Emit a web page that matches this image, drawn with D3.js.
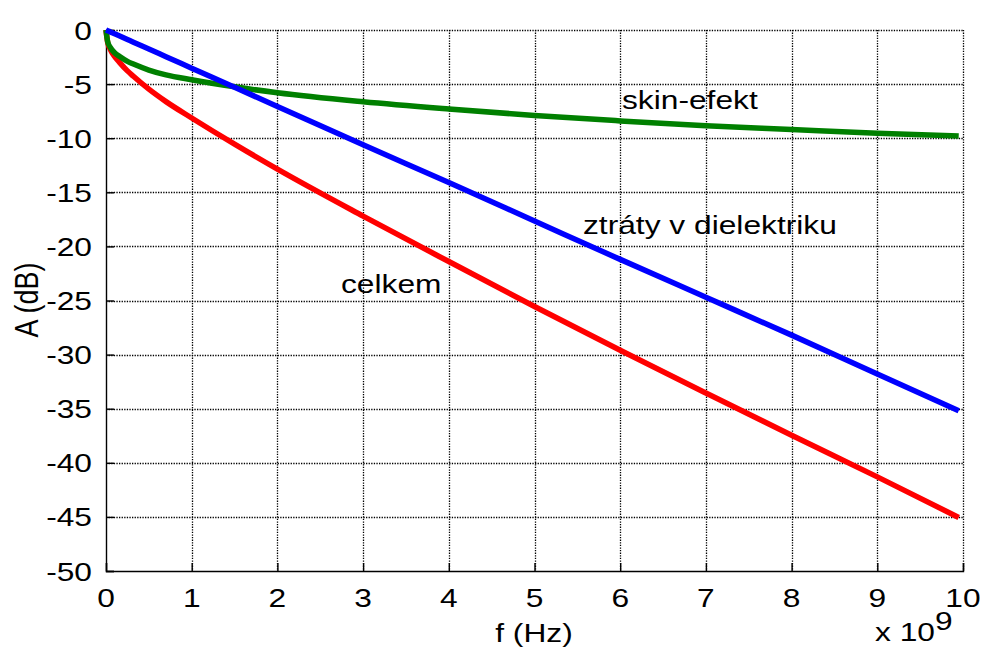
<!DOCTYPE html>
<html>
<head>
<meta charset="utf-8">
<script src="https://cdn.jsdelivr.net/npm/d3@7"></script>
<style>
  html, body { margin: 0; padding: 0; background: #fff; }
  svg text { font-family: "Liberation Sans", Arial, sans-serif; fill: #000; }
</style>
</head>
<body>
<svg id="chart" width="986" height="650"></svg>
<script>
// ---- data (frequency in GHz, i.e. x 10^9 Hz; attenuation in dB) ----
const freq         = [0, 0.02, 0.05, 0.1, 0.16, 0.25, 0.32, 0.5, 0.7, 1, 1.5, 2, 3, 4, 5, 6, 7, 8, 9, 9.95];
const skinEfekt    = [0, -1.1, -1.6, -2.1, -2.45, -2.9, -3.15, -3.7, -4.15, -4.6, -5.25, -5.8, -6.63, -7.3, -7.9, -8.4, -8.85, -9.2, -9.55, -9.8];
const dielektrikum = [0, -0.07, -0.18, -0.35, -0.56, -0.88, -1.13, -1.76, -2.47, -3.53, -5.3, -7.06, -10.6, -14.1, -17.65, -21.2, -24.7, -28.2, -31.8, -35.2];
const celkem       = [0, -1.17, -1.78, -2.45, -3.01, -3.78, -4.28, -5.47, -6.62, -8.13, -10.55, -12.86, -17.2, -21.4, -25.55, -29.6, -33.55, -37.45, -41.3, -45.05];
const xTicks = [0, 1, 2, 3, 4, 5, 6, 7, 8, 9, 10];
const yTicks = [0, -5, -10, -15, -20, -25, -30, -35, -40, -45, -50];
const seriesNames = ["celkem", "skin-efekt", "ztráty v dielektriku"];
const xLabel = "f (Hz)";
const yLabel = "A (dB)";

// ---- layout ----
const svg = d3.select("#chart");
const L = 106, R = 963, T = 30, B = 571;
const SX = 1.22; // horizontal stretch of the original figure's text
const FS = 26;

const x = d3.scaleLinear().domain([0, 10]).range([L, R]);
const y = d3.scaleLinear().domain([-50, 0]).range([B, T]);

// grid
const grid = svg.append("g").attr("stroke", "#000").attr("stroke-width", 1.3)
  .attr("stroke-dasharray", "1.3,1.3");
grid.selectAll(".vg").data(xTicks.filter(d => d > 0)).join("line")
  .attr("x1", d => Math.round(x(d)) + 0.5).attr("x2", d => Math.round(x(d)) + 0.5)
  .attr("y1", T).attr("y2", B);
grid.selectAll(".hg").data(yTicks.filter(d => d > -50)).join("line")
  .attr("y1", d => Math.round(y(d)) + 0.5).attr("y2", d => Math.round(y(d)) + 0.5)
  .attr("x1", L).attr("x2", R);

// axes (ticks inward, labels drawn separately to allow stretched text)
const xAxis = d3.axisBottom(x).tickValues(xTicks).tickSize(-8).tickFormat("");
const yAxis = d3.axisLeft(y).tickValues(yTicks).tickSize(-8).tickFormat("");
const gx = svg.append("g").attr("transform", `translate(0,${B})`).call(xAxis);
const gy = svg.append("g").attr("transform", `translate(${L},0)`).call(yAxis);
[gx, gy].forEach(g => {
  g.select(".domain").attr("stroke", "#000").attr("stroke-width", 1.4);
  g.selectAll(".tick line").attr("stroke", "#000").attr("stroke-width", 1.4);
});

// tick labels
svg.append("g").selectAll("text").data(xTicks).join("text")
  .attr("transform", d => `translate(${x(d)},607) scale(${SX},1)`)
  .attr("text-anchor", "middle").attr("font-size", FS)
  .text(d => d);
svg.append("g").selectAll("text").data(yTicks).join("text")
  .attr("transform", d => `translate(92,${y(d) + 9.5}) scale(${SX},1)`)
  .attr("text-anchor", "end").attr("font-size", FS)
  .text(d => d);

// exponent label
svg.append("text").attr("transform", `translate(875,641) scale(${SX},1)`)
  .attr("font-size", FS).text("x 10");
svg.append("text").attr("transform", `translate(935,630) scale(${SX},1)`)
  .attr("font-size", FS).text("9");

// axis titles
svg.append("text").attr("transform", `translate(534,642) scale(${SX},1)`)
  .attr("text-anchor", "middle").attr("font-size", FS).text(xLabel);
svg.append("text").attr("transform", `translate(38,300) scale(${SX},1) rotate(-90)`)
  .attr("text-anchor", "middle").attr("font-size", FS + 1).text(yLabel);

// lines
const line = d3.line().x(d => x(d[0])).y(d => y(d[1])).curve(d3.curveMonotoneX);
const series = [
  { vals: celkem, color: "#ff0000" },
  { vals: skinEfekt, color: "#008000" },
  { vals: dielektrikum, color: "#0000ff" }
];
svg.append("g").selectAll("path").data(series).join("path")
  .attr("d", s => line(freq.map((f, i) => [f, s.vals[i]])))
  .attr("fill", "none").attr("stroke", s => s.color)
  .attr("stroke-width", 5.5).attr("stroke-linecap", "butt").attr("stroke-linejoin", "round");

// series annotations
const ann = [
  { t: seriesNames[1], px: 622, py: 109 },
  { t: seriesNames[2], px: 583, py: 234 },
  { t: seriesNames[0], px: 341, py: 293 }
];
svg.append("g").selectAll("text").data(ann).join("text")
  .attr("transform", d => `translate(${d.px},${d.py}) scale(${SX},1)`)
  .attr("font-size", FS).text(d => d.t);
</script>
</body>
</html>
